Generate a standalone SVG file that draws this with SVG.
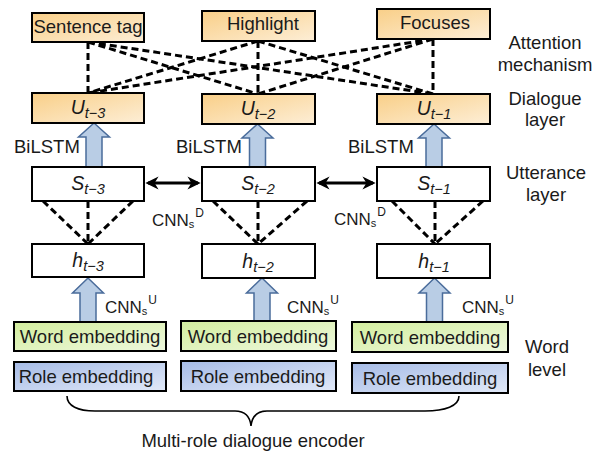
<svg xmlns="http://www.w3.org/2000/svg" width="601" height="452" viewBox="0 0 601 452">
<defs>
<linearGradient id="gO" x1="0" y1="0" x2="1" y2="1"><stop offset="0" stop-color="#f9cf88"/><stop offset="1" stop-color="#fdeed6"/></linearGradient>
<linearGradient id="gG" x1="0" y1="0" x2="1" y2="1"><stop offset="0" stop-color="#d3ee9e"/><stop offset="1" stop-color="#eef8de"/></linearGradient>
<linearGradient id="gB" x1="0" y1="0" x2="1" y2="1"><stop offset="0" stop-color="#a6bbe6"/><stop offset="1" stop-color="#e1e9f8"/></linearGradient>
<marker id="ah" viewBox="0 0 10 10" refX="8" refY="5" markerWidth="4.4" markerHeight="4.4" orient="auto-start-reverse" markerUnits="strokeWidth"><path d="M0,0 L10,5 L0,10 L3,5 Z" fill="#000"/></marker>
</defs>
<style>
.box{stroke:#000;stroke-width:2}
.w{fill:#fff}
.o{fill:url(#gO)}
.g{fill:url(#gG)}
.b{fill:url(#gB)}
.t{font-family:"Liberation Sans",Arial,sans-serif;font-size:18.5px;fill:#1a1a1a}
.c{text-anchor:middle}
.i{font-style:italic}
.v{font-size:19.5px}
.sub{font-size:14.5px}
.dash{stroke:#000;stroke-width:3;stroke-dasharray:7,4;fill:none}
.arr{fill:#b9cde5;stroke:#4a6c9b;stroke-width:1.5}
.dbl{stroke:#000;stroke-width:3;fill:none;marker-start:url(#ah);marker-end:url(#ah)}
.brace{stroke:#000;stroke-width:1.6;fill:none}
.lbl{font-family:"Liberation Sans",Arial,sans-serif;font-size:17px;fill:#1a1a1a}
</style>

<g id="connectors">
  <line class="dash" x1="88" y1="42" x2="88" y2="93"/>
  <line class="dash" x1="88" y1="42" x2="258" y2="94"/>
  <line class="dash" x1="88" y1="42" x2="433" y2="94"/>
  <line class="dash" x1="258" y1="41" x2="88" y2="93"/>
  <line class="dash" x1="258" y1="41" x2="258" y2="94"/>
  <line class="dash" x1="258" y1="41" x2="433" y2="94"/>
  <line class="dash" x1="433" y1="39" x2="88" y2="93"/>
  <line class="dash" x1="433" y1="39" x2="258" y2="94"/>
  <line class="dash" x1="433" y1="39" x2="433" y2="94"/>

  <line class="dash" x1="43" y1="201" x2="88" y2="244"/>
  <line class="dash" x1="88" y1="201" x2="88" y2="244"/>
  <line class="dash" x1="133" y1="201" x2="88" y2="244"/>
  <line class="dash" x1="213" y1="201" x2="258" y2="244"/>
  <line class="dash" x1="258" y1="201" x2="258" y2="244"/>
  <line class="dash" x1="307" y1="201" x2="258" y2="244"/>
  <line class="dash" x1="392" y1="201" x2="435" y2="244"/>
  <line class="dash" x1="435" y1="201" x2="435" y2="244"/>
  <line class="dash" x1="483" y1="201" x2="435" y2="244"/>

  <line class="dbl" x1="148" y1="183" x2="198" y2="183"/>
  <line class="dbl" x1="319" y1="183" x2="373" y2="183"/>

  <path class="arr" d="M94,123 L109.5,137 L102,137 L102,167 L86,167 L86,137 L78.5,137 Z"/>
  <path class="arr" d="M257.5,124 L273,138 L265.5,138 L265.5,167 L249.5,167 L249.5,138 L242,138 Z"/>
  <path class="arr" d="M434,124 L449.5,138 L442,138 L442,167 L426,167 L426,138 L418.5,138 Z"/>

  <path class="arr" d="M88,278 L103.5,293 L96,293 L96,322 L80,322 L80,293 L72.5,293 Z"/>
  <path class="arr" d="M262,278 L277.5,293 L270,293 L270,321 L254,321 L254,293 L246.5,293 Z"/>
  <path class="arr" d="M434.5,278 L450,293 L442.5,293 L442.5,322 L426.5,322 L426.5,293 L419,293 Z"/>

  <path class="brace" d="M67,396 C67,406 78,411 95,411 L235,411 C245,411 250,416 251,426 C252,416 257,411 267,411 L425,411 C445,411 459,406 459,396"/>
</g>

<g id="sentence-tag"><rect class="box o" x="32" y="13" width="112" height="29"/><text class="t" x="88" y="33" text-anchor="middle">Sentence tag</text></g>
<g id="highlight"><rect class="box o" x="202" y="11" width="113" height="30"/><text class="t" x="263" y="30" text-anchor="middle">Highlight</text></g>
<g id="focuses"><rect class="box o" x="377" y="9" width="113" height="30"/><text class="t" x="435" y="29" text-anchor="middle">Focuses</text></g>

<g id="u3"><rect class="box o" x="32" y="93" width="112" height="30"/><text class="t v i c" x="88" y="114">U<tspan class="sub" dy="4">t−3</tspan></text></g>
<g id="u2"><rect class="box o" x="202" y="94" width="113" height="30"/><text class="t v i c" x="258" y="115">U<tspan class="sub" dy="4">t−2</tspan></text></g>
<g id="u1"><rect class="box o" x="377" y="94" width="113" height="30"/><text class="t v i c" x="434" y="115">U<tspan class="sub" dy="4">t−1</tspan></text></g>

<g id="s3"><rect class="box w" x="32" y="167" width="112" height="34"/><text class="t v i c" x="88" y="190">S<tspan class="sub" dy="4">t−3</tspan></text></g>
<g id="s2"><rect class="box w" x="202" y="167" width="113" height="34"/><text class="t v i c" x="258" y="190">S<tspan class="sub" dy="4">t−2</tspan></text></g>
<g id="s1"><rect class="box w" x="377" y="167" width="113" height="34"/><text class="t v i c" x="434" y="190">S<tspan class="sub" dy="4">t−1</tspan></text></g>

<g id="h3"><rect class="box w" x="32" y="244" width="112" height="33"/><text class="t v i c" x="88" y="267">h<tspan class="sub" dy="4">t−3</tspan></text></g>
<g id="h2"><rect class="box w" x="202" y="244" width="113" height="34"/><text class="t v i c" x="258" y="268">h<tspan class="sub" dy="4">t−2</tspan></text></g>
<g id="h1"><rect class="box w" x="377" y="244" width="113" height="34"/><text class="t v i c" x="434" y="268">h<tspan class="sub" dy="4">t−1</tspan></text></g>

<g id="we1"><rect class="box g" x="14" y="322" width="152" height="29"/><text class="t c" x="90" y="343">Word embedding</text></g>
<g id="we2"><rect class="box g" x="181" y="321" width="155" height="30"/><text class="t c" x="258" y="343">Word embedding</text></g>
<g id="we3"><rect class="box g" x="352" y="322" width="156" height="30"/><text class="t c" x="430" y="344">Word embedding</text></g>

<g id="re1"><rect class="box b" x="14" y="362" width="152" height="29"/><text class="t c" x="86" y="383">Role embedding</text></g>
<g id="re2"><rect class="box b" x="181" y="361" width="155" height="30"/><text class="t c" x="258" y="383">Role embedding</text></g>
<g id="re3"><rect class="box b" x="352" y="363" width="156" height="30"/><text class="t c" x="430" y="385">Role embedding</text></g>

<g id="labels">
  <text class="t" x="14" y="153">BiLSTM</text>
  <text class="t" x="176" y="153">BiLSTM</text>
  <text class="t" x="348" y="153">BiLSTM</text>
  <text class="lbl" x="152" y="226">CNN<tspan font-size="11" dy="2">s</tspan><tspan font-size="12" dy="-11" dx="1">D</tspan></text>
  <text class="lbl" x="334" y="225">CNN<tspan font-size="11" dy="2">s</tspan><tspan font-size="12" dy="-11" dx="1">D</tspan></text>
  <text class="lbl" x="105" y="313">CNN<tspan font-size="11" dy="2">s</tspan><tspan font-size="12" dy="-11" dx="1">U</tspan></text>
  <text class="lbl" x="287" y="313">CNN<tspan font-size="11" dy="2">s</tspan><tspan font-size="12" dy="-11" dx="1">U</tspan></text>
  <text class="lbl" x="462" y="313">CNN<tspan font-size="11" dy="2">s</tspan><tspan font-size="12" dy="-11" dx="1">U</tspan></text>
  <text class="t c" x="545" y="49">Attention</text>
  <text class="t c" x="545" y="71">mechanism</text>
  <text class="t c" x="545" y="105">Dialogue</text>
  <text class="t c" x="545" y="126">layer</text>
  <text class="t c" x="546" y="179">Utterance</text>
  <text class="t c" x="546" y="201">layer</text>
  <text class="t c" x="547" y="353">Word</text>
  <text class="t c" x="547" y="376">level</text>
  <text class="t c" x="253" y="447">Multi-role dialogue encoder</text>
</g>
</svg>
